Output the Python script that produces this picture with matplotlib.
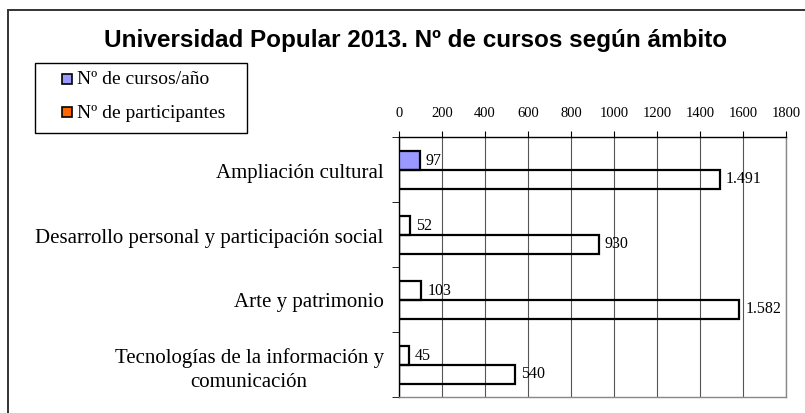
import matplotlib.pyplot as plt
from matplotlib.patches import Rectangle

# data
categories = ['Ampliación cultural',
              'Desarrollo personal y participación social',
              'Arte y patrimonio',
              'Tecnologías de la información y\ncomunicación']
cursos = [97, 52, 103, 45]
participantes = [1491, 930, 1582, 540]
xticks = [0, 200, 400, 600, 800, 1000, 1200, 1400, 1600, 1800]
series_names = ['Nº de cursos/año', 'Nº de participantes']
series_colors = ['#9999FF', '#FF6600']

serif = 'Liberation Serif'
W, H = 805, 414

fig = plt.figure(figsize=(8.05, 4.14), dpi=100)
ax = fig.add_axes([399 / W, 1 - 398 / H, 387 / W, 260 / H])

# outer frame
fig.patches.append(Rectangle((8 / W, -0.2), 1.2, 1.2 - 11 / H, transform=fig.transFigure,
                             fill=False, edgecolor='#333333', linewidth=1.4))

pos = list(range(len(categories)))
h = 0.3
cursos_faces = [series_colors[0], 'none', 'none', 'none']
ax.barh([p - 0.14 for p in pos], cursos, height=h, color=cursos_faces,
        edgecolor='black', linewidth=1.6, zorder=3)
ax.barh([p + 0.155 for p in pos], participantes, height=h, color='none',
        edgecolor='black', linewidth=1.6, zorder=3)

def fmt(v):
    return f'{v:,}'.replace(',', '.')

for p, c, q in zip(pos, cursos, participantes):
    ax.text(c + 28, p - 0.15, fmt(c), va='center', ha='left', fontsize=11.5, family=serif)
    ax.text(q + 28, p + 0.13, fmt(q), va='center', ha='left', fontsize=11.5, family=serif)

ax.set_xlim(0, 1800)
ax.set_ylim(3.5, -0.5)
ax.set_xticks(xticks)
ax.set_xticklabels([str(t) for t in xticks], family=serif, fontsize=10.5)
ax.xaxis.tick_top()
ax.tick_params(axis='x', length=4, pad=9, color='black')
ax.grid(axis='x', color='#555555', linewidth=0.8, zorder=0)

ax.set_yticks(pos)
ax.set_yticklabels(categories, family=serif, fontsize=15, multialignment='center',
                   linespacing=1.3)
ax.tick_params(axis='y', length=0, pad=11)
ax.set_yticks([-0.5, 0.5, 1.5, 2.5, 3.5], minor=True)
ax.tick_params(axis='y', which='minor', length=5, color='black')

ax.spines['top'].set_color('black')
ax.spines['left'].set_color('black')
ax.spines['right'].set_color('#888888')
ax.spines['bottom'].set_color('#888888')
for s in ax.spines.values():
    s.set_linewidth(1.0)

fig.text(416 / W, 1 - 41 / H, 'Universidad Popular 2013. Nº de cursos según ámbito',
         ha='center', va='center', fontsize=17.5, fontweight='bold', family='Liberation Sans')

# legend box drawn by hand to get Excel-like spacing
fig.patches.append(Rectangle((35 / W, 1 - 134 / H), 212 / W, 70 / H, transform=fig.transFigure,
                             fill=False, edgecolor='black', linewidth=1.0))
for name, col, yc in zip(series_names, series_colors, [80, 113]):
    fig.patches.append(Rectangle((62 / W, 1 - (yc + 5) / H), 10 / W, 10 / H,
                                 transform=fig.transFigure, facecolor=col,
                                 edgecolor='black', linewidth=1.2))
    fig.text(77 / W, 1 - yc / H, name, ha='left', va='center', fontsize=14, family=serif)

plt.savefig('out.png', dpi=100)
